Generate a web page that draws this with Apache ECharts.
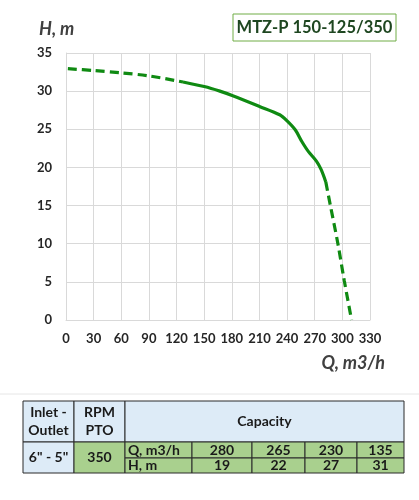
<!DOCTYPE html>
<html>
<head>
<meta charset="utf-8">
<script src="https://cdn.jsdelivr.net/npm/echarts@6/dist/echarts.min.js"></script>
<style>
  html, body { margin: 0; padding: 0; background: #fff; }
  #chart { width: 419px; height: 500px; }
</style>
</head>
<body>
<div id="chart"></div>
<script>
// curve: [Q m3/h, H m]
let startDashed = [[2, 32.95], [30, 32.7], [60, 32.4], [90, 32.0], [127, 31.2]];
let solidPart = [[127, 31.2], [150, 30.6], [167, 30.0], [181, 29.4], [210, 28.0], [232, 26.9], [240, 26.1], [249, 24.9], [256, 23.4], [263, 22.1], [272, 20.8], [277, 19.7], [282, 18.1]];
let endDashed = [[282, 18.1], [287, 15.0], [295, 10.1], [302, 5.2], [310, 0]];

// table
let tableQ = ['280', '265', '230', '135'];
let tableH = ['19', '22', '27', '31'];
let inletOutlet = '6" - 5"';
let rpmPto = '350';
let titleText = 'MTZ-P 150-125/350';

let lineColor = '#0f8a12';
let font = 'Lato, "Open Sans", sans-serif';

let chart = echarts.init(document.getElementById('chart'));

function cell(x1, y1, x2, y2, fill, txt, align) {
    let items = [{
        type: 'rect',
        shape: { x: x1, y: y1, width: x2 - x1, height: y2 - y1 },
        style: { fill: fill, stroke: '#2b2b2b', lineWidth: 1 }
    }];
    if (txt) {
        items.push({
            type: 'text',
            x: align === 'left' ? x1 + 3 : (x1 + x2) / 2,
            y: (y1 + y2) / 2,
            style: {
                text: txt, fill: '#1a1a1a',
                font: 'bold 14px ' + font,
                align: align === 'left' ? 'left' : 'center',
                verticalAlign: 'middle', lineHeight: 18
            }
        });
    }
    return items;
}

let cx = [23, 74, 125, 192, 252, 305, 357, 404];
let ry = [401, 442, 458, 473];
let blue = '#ddebf7';
let green = '#a9d08e';

let tableEls = [];
tableEls = tableEls.concat(cell(cx[0], ry[0], cx[1], ry[1], blue, 'Inlet -\nOutlet'));
tableEls = tableEls.concat(cell(cx[1], ry[0], cx[2], ry[1], blue, 'RPM\nPTO'));
tableEls = tableEls.concat(cell(cx[2], ry[0], cx[7], ry[1], blue, 'Capacity'));
tableEls = tableEls.concat(cell(cx[0], ry[1], cx[1], ry[3], blue, inletOutlet));
tableEls = tableEls.concat(cell(cx[1], ry[1], cx[2], ry[3], green, rpmPto));
tableEls = tableEls.concat(cell(cx[2], ry[1], cx[3], ry[2], green, 'Q, m3/h', 'left'));
tableEls = tableEls.concat(cell(cx[2], ry[2], cx[3], ry[3], green, 'H, m', 'left'));
for (let i = 0; i < tableQ.length; i++) {
    tableEls = tableEls.concat(cell(cx[3 + i], ry[1], cx[4 + i], ry[2], green, tableQ[i]));
    tableEls = tableEls.concat(cell(cx[3 + i], ry[2], cx[4 + i], ry[3], green, tableH[i]));
}

let option = {
    backgroundColor: '#fff',
    animation: false,
    grid: { left: 66, right: 49, top: 53, bottom: 180 },
    xAxis: {
        type: 'value', min: 0, max: 330, interval: 30,
        axisLine: { show: true, lineStyle: { color: '#d9d9d9' } },
        axisTick: { show: false },
        axisLabel: { color: '#262626', fontWeight: 'bold', fontSize: 13, fontFamily: font, margin: 12 },
        splitLine: { show: true, lineStyle: { color: '#d9d9d9' } }
    },
    yAxis: {
        type: 'value', min: 0, max: 35, interval: 5,
        axisLine: { show: true, lineStyle: { color: '#d9d9d9' } },
        axisTick: { show: false },
        axisLabel: { color: '#262626', fontWeight: 'bold', fontSize: 13, fontFamily: font, margin: 14 },
        splitLine: { show: true, lineStyle: { color: '#d9d9d9' } }
    },
    series: [
        {
            type: 'line', data: startDashed, smooth: 0.3, symbol: 'none',
            lineStyle: { color: lineColor, width: 3.2, type: [9, 5] }
        },
        {
            type: 'line', data: solidPart, smooth: 0.3, symbol: 'none',
            lineStyle: { color: lineColor, width: 3.2 }
        },
        {
            type: 'line', data: endDashed, smooth: 0.3, symbol: 'none',
            lineStyle: { color: lineColor, width: 3.2, type: [9, 5] }
        }
    ],
    graphic: [
        {
            type: 'text', x: 39, y: 29,
            style: { text: 'H, m', fill: '#404040', font: 'italic bold 18px ' + font, verticalAlign: 'middle' }
        },
        {
            type: 'text', x: 385, y: 363,
            style: { text: 'Q, m3/h', fill: '#404040', font: 'italic bold 18px ' + font, align: 'right', verticalAlign: 'middle' }
        },
        {
            type: 'rect',
            shape: { x: 233, y: 14, width: 163, height: 27 },
            style: { fill: '#fff', stroke: '#70ad47', lineWidth: 1 }
        },
        {
            type: 'text', x: 314.5, y: 27.5,
            style: { text: titleText, fill: '#1e4620', font: 'bold 16.5px ' + font, align: 'center', verticalAlign: 'middle' }
        },
        {
            type: 'line',
            shape: { x1: 0, y1: 394, x2: 419, y2: 394 },
            style: { stroke: '#e6e6e6', lineWidth: 1 }
        }
    ].concat(tableEls)
};

chart.setOption(option);
</script>
</body>
</html>
